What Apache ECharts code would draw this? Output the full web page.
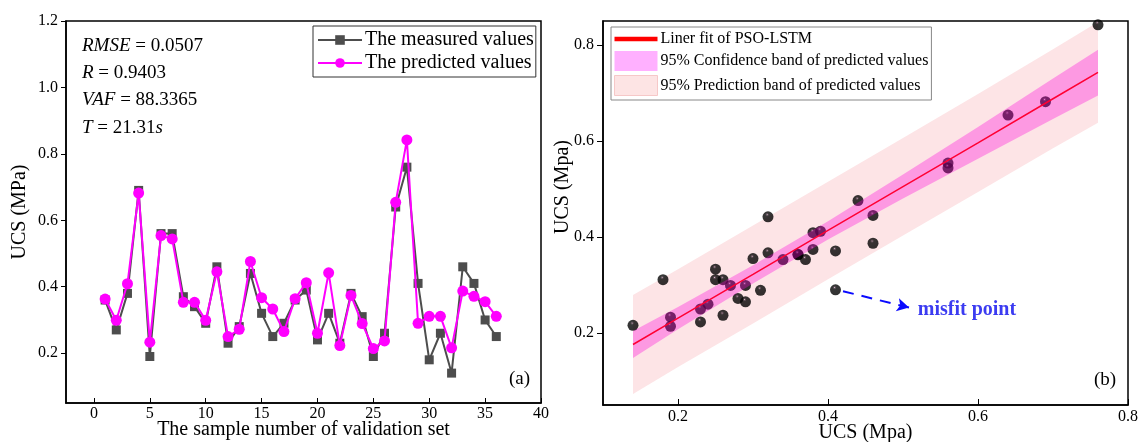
<!DOCTYPE html>
<html>
<head>
<meta charset="utf-8">
<script src="https://cdn.jsdelivr.net/npm/echarts@6/dist/echarts.min.js"></script>
<style>
  html, body { margin: 0; padding: 0; background: #fff; }
  #chart { width: 1142px; height: 442px; }
</style>
</head>
<body>
<div id="chart"></div>
<script>
"use strict";

// validation set; panel (b) plots measured vs predicted
const measured = [0.36, 0.27, 0.38, 0.69, 0.19, 0.56, 0.56, 0.37, 0.34, 0.29, 0.46, 0.23,
  0.28, 0.44, 0.32, 0.25, 0.29, 0.36, 0.39, 0.24, 0.32, 0.23, 0.38, 0.31,
  0.19, 0.26, 0.64, 0.76, 0.41, 0.18, 0.26, 0.14, 0.46, 0.41, 0.30, 0.25];
const predicted = [0.363, 0.299, 0.409, 0.682, 0.233, 0.554, 0.544, 0.353, 0.353, 0.299, 0.445, 0.25,
  0.272, 0.476, 0.367, 0.333, 0.265, 0.364, 0.412, 0.26, 0.442, 0.223, 0.374, 0.289,
  0.214, 0.237, 0.654, 0.842, 0.29, 0.311, 0.311, 0.216, 0.387, 0.371, 0.355, 0.311];

const sampleTicks = [0, 5, 10, 15, 20, 25, 30, 35, 40];
const ucsTicksA = [0.2, 0.4, 0.6, 0.8, 1.0, 1.2];
const ucsTicksB = [0.2, 0.4, 0.6, 0.8];

// fit line and bands of panel (b)
const bandX = [0.14, 0.2, 0.3, 0.4, 0.5, 0.6, 0.7, 0.76];
const fitY = [0.176, 0.231, 0.322, 0.414, 0.505, 0.596, 0.688, 0.743];
const confUp = [0.204, 0.254, 0.341, 0.433, 0.530, 0.629, 0.730, 0.790];
const confLo = [0.148, 0.208, 0.303, 0.395, 0.480, 0.563, 0.646, 0.695];
const predUp = [0.279, 0.333, 0.424, 0.515, 0.606, 0.698, 0.791, 0.848];
const predLo = [0.073, 0.129, 0.220, 0.312, 0.403, 0.494, 0.585, 0.638];

const misfitArrow = [[0.42, 0.287], [0.508, 0.253]];
const misfitLabelAt = [0.513, 0.249];

const SERIF = "'Liberation Serif', 'Times New Roman', serif";
const fmt1 = (v) => v.toFixed(1);

function bandRender(lo, up, fill) {
  return (params, api) => {
    if (params.dataIndex !== 0) return null;
    const pts = [];
    bandX.forEach((x, i) => pts.push(api.coord([x, up[i]])));
    for (let i = bandX.length - 1; i >= 0; i--) pts.push(api.coord([bandX[i], lo[i]]));
    return { type: "polygon", shape: { points: pts }, style: { fill } };
  };
}

const axisBase = {
  axisLine: { show: true, onZero: false, lineStyle: { color: "#000", width: 1.5 } },
  splitLine: { show: false },
  axisLabel: { color: "#000", fontFamily: SERIF, fontSize: 16, formatter: fmt1 },
  nameTextStyle: { color: "#000", fontFamily: SERIF, fontSize: 20 },
  nameMoveOverlap: false,
};

const sphere = {
  type: "radial", x: 0.42, y: 0.3, r: 0.6,
  colorStops: [
    { offset: 0, color: "#ecc8de" },
    { offset: 0.1, color: "#4a3642" },
    { offset: 0.28, color: "#050505" },
    { offset: 1, color: "#000" },
  ],
};

const chart = echarts.init(document.getElementById("chart"));

chart.setOption({
  backgroundColor: "#fff",
  animation: false,
  textStyle: { fontFamily: SERIF },
  grid: [
    { left: 66, top: 21, width: 475, height: 382, show: true, borderColor: "#000", borderWidth: 1.5,
      outerBoundsMode: "none" },
    { left: 603, top: 21, width: 525, height: 384, show: true, borderColor: "#000", borderWidth: 1.5,
      outerBoundsMode: "none" },
  ],
  xAxis: [
    {
      ...axisBase, gridIndex: 0, type: "value", min: -2.5, max: 40,
      name: "The sample number of validation set", nameLocation: "middle", nameGap: 17,
      axisTick: { inside: true, length: 5, customValues: sampleTicks, lineStyle: { color: "#000" } },
      axisLabel: { ...axisBase.axisLabel, formatter: (v) => String(v), customValues: sampleTicks, margin: 3 },
    },
    {
      ...axisBase, gridIndex: 1, type: "value", min: 0.1, max: 0.8,
      name: "UCS (Mpa)", nameLocation: "middle", nameGap: 18,
      axisTick: { inside: true, length: 6, customValues: ucsTicksB, lineStyle: { color: "#000" } },
      axisLabel: { ...axisBase.axisLabel, customValues: ucsTicksB, margin: 4 },
    },
  ],
  yAxis: [
    {
      ...axisBase, gridIndex: 0, type: "value", min: 0.05, max: 1.2,
      name: "UCS (MPa)", nameLocation: "middle", nameGap: 36,
      axisTick: { inside: false, length: 5, customValues: ucsTicksA, lineStyle: { color: "#000" } },
      axisLabel: { ...axisBase.axisLabel, customValues: ucsTicksA, margin: 8 },
    },
    {
      ...axisBase, gridIndex: 1, type: "value", min: 0.05, max: 0.85,
      name: "UCS (Mpa)", nameLocation: "middle", nameGap: 30,
      nameTextStyle: { ...axisBase.nameTextStyle, padding: [0, 0, 0, 52] },
      axisTick: { inside: false, length: 6, customValues: ucsTicksB, lineStyle: { color: "#000" } },
      axisLabel: { ...axisBase.axisLabel, customValues: ucsTicksB, margin: 9 },
    },
  ],
  legend: [
    {
      left: 313, top: 26, orient: "vertical",
      padding: [4, 2, 4, 4], itemGap: 3, itemWidth: 44, itemHeight: 12,
      borderColor: "#333", borderWidth: 1, backgroundColor: "#fff",
      textStyle: { color: "#000", fontFamily: SERIF, fontSize: 20, padding: [0, 0, 0, -2] },
      data: ["The measured values", "The predicted values"],
    },
    {
      left: 611, top: 27, orient: "vertical",
      padding: [4, 3, 4, 3], itemGap: 4, itemWidth: 43, itemHeight: 20,
      borderColor: "#888", borderWidth: 1, backgroundColor: "#fff",
      textStyle: { color: "#000", fontFamily: SERIF, fontSize: 16, padding: [0, 0, 0, -2] },
      data: [
        { name: "Liner fit of PSO-LSTM", icon: "path://M0,0H40V4H0Z" },
        { name: "95% Confidence band of predicted values", icon: "rect" },
        { name: "95% Prediction band of predicted values", icon: "rect",
          itemStyle: { color: "#fde4e4", borderColor: "#f6c8c8", borderWidth: 1 } },
      ],
    },
  ],
  graphic: [
    {
      type: "text", left: 82, top: 32,
      style: {
        text: "{i|RMSE} = 0.0507\n{i|R} = 0.9403\n{i|VAF} = 88.3365\n{i|T} = 21.31{i|s}",
        font: "19px " + SERIF, fill: "#000", lineHeight: 27.3,
        rich: { i: { fontStyle: "italic", fontSize: 19, fontFamily: SERIF, lineHeight: 27.3 } },
      },
    },
    { type: "text", left: 509, top: 370, style: { text: "(a)", font: "19px " + SERIF, fill: "#000" } },
    { type: "text", left: 1094, top: 371, style: { text: "(b)", font: "19px " + SERIF, fill: "#000" } },
  ],
  series: [
    {
      name: "The measured values", type: "line", xAxisIndex: 0, yAxisIndex: 0,
      data: measured.map((v, i) => [i + 1, v]),
      symbol: "rect", symbolSize: 9,
      lineStyle: { color: "#4d4d4d", width: 2 },
      itemStyle: { color: "#4d4d4d" },
      z: 3,
    },
    {
      name: "The predicted values", type: "line", xAxisIndex: 0, yAxisIndex: 0,
      data: predicted.map((v, i) => [i + 1, v]),
      symbol: "circle", symbolSize: 11,
      lineStyle: { color: "#ff00ff", width: 2 },
      itemStyle: { color: "#ff00ff" },
      z: 4,
    },
    {
      name: "95% Prediction band of predicted values", type: "custom",
      xAxisIndex: 1, yAxisIndex: 1,
      data: bandX.map((x, i) => [x, predLo[i], predUp[i]]),
      encode: { x: 0, y: [1, 2] },
      itemStyle: { color: "#fde4e4" },
      renderItem: bandRender(predLo, predUp, "#fde4e6"),
      z: 1,
    },
    {
      name: "points", type: "scatter", xAxisIndex: 1, yAxisIndex: 1,
      data: measured.map((v, i) => [v, predicted[i]]),
      symbolSize: 11,
      itemStyle: { color: sphere },
      z: 2,
    },
    {
      name: "95% Confidence band of predicted values", type: "custom",
      xAxisIndex: 1, yAxisIndex: 1,
      data: bandX.map((x, i) => [x, confLo[i], confUp[i]]),
      encode: { x: 0, y: [1, 2] },
      itemStyle: { color: "#ffb0ff" },
      renderItem: bandRender(confLo, confUp, "rgba(255, 0, 220, 0.33)"),
      z: 3,
    },
    {
      name: "Liner fit of PSO-LSTM", type: "line", xAxisIndex: 1, yAxisIndex: 1,
      data: bandX.map((x, i) => [x, fitY[i]]),
      showSymbol: false, symbol: "none",
      lineStyle: { color: "#ff0033", width: 1.5 },
      itemStyle: { color: "#ff0000" },
      z: 4,
    },
    {
      name: "misfit", type: "scatter", xAxisIndex: 1, yAxisIndex: 1,
      data: [misfitLabelAt], symbolSize: 0, silent: true,
      label: {
        show: true, position: "right", distance: 5, formatter: "misfit point",
        color: "#0a0aee", fontFamily: SERIF, fontSize: 20, fontWeight: "bold",
      },
      markLine: {
        silent: true, symbol: ["none", "arrow"], symbolSize: [10, 12],
        label: { show: false },
        lineStyle: { color: "#0a0aff", width: 2, type: [11, 8] },
        data: [[{ coord: misfitArrow[0] }, { coord: misfitArrow[1] }]],
      },
      z: 5,
    },
  ],
});
</script>
</body>
</html>
